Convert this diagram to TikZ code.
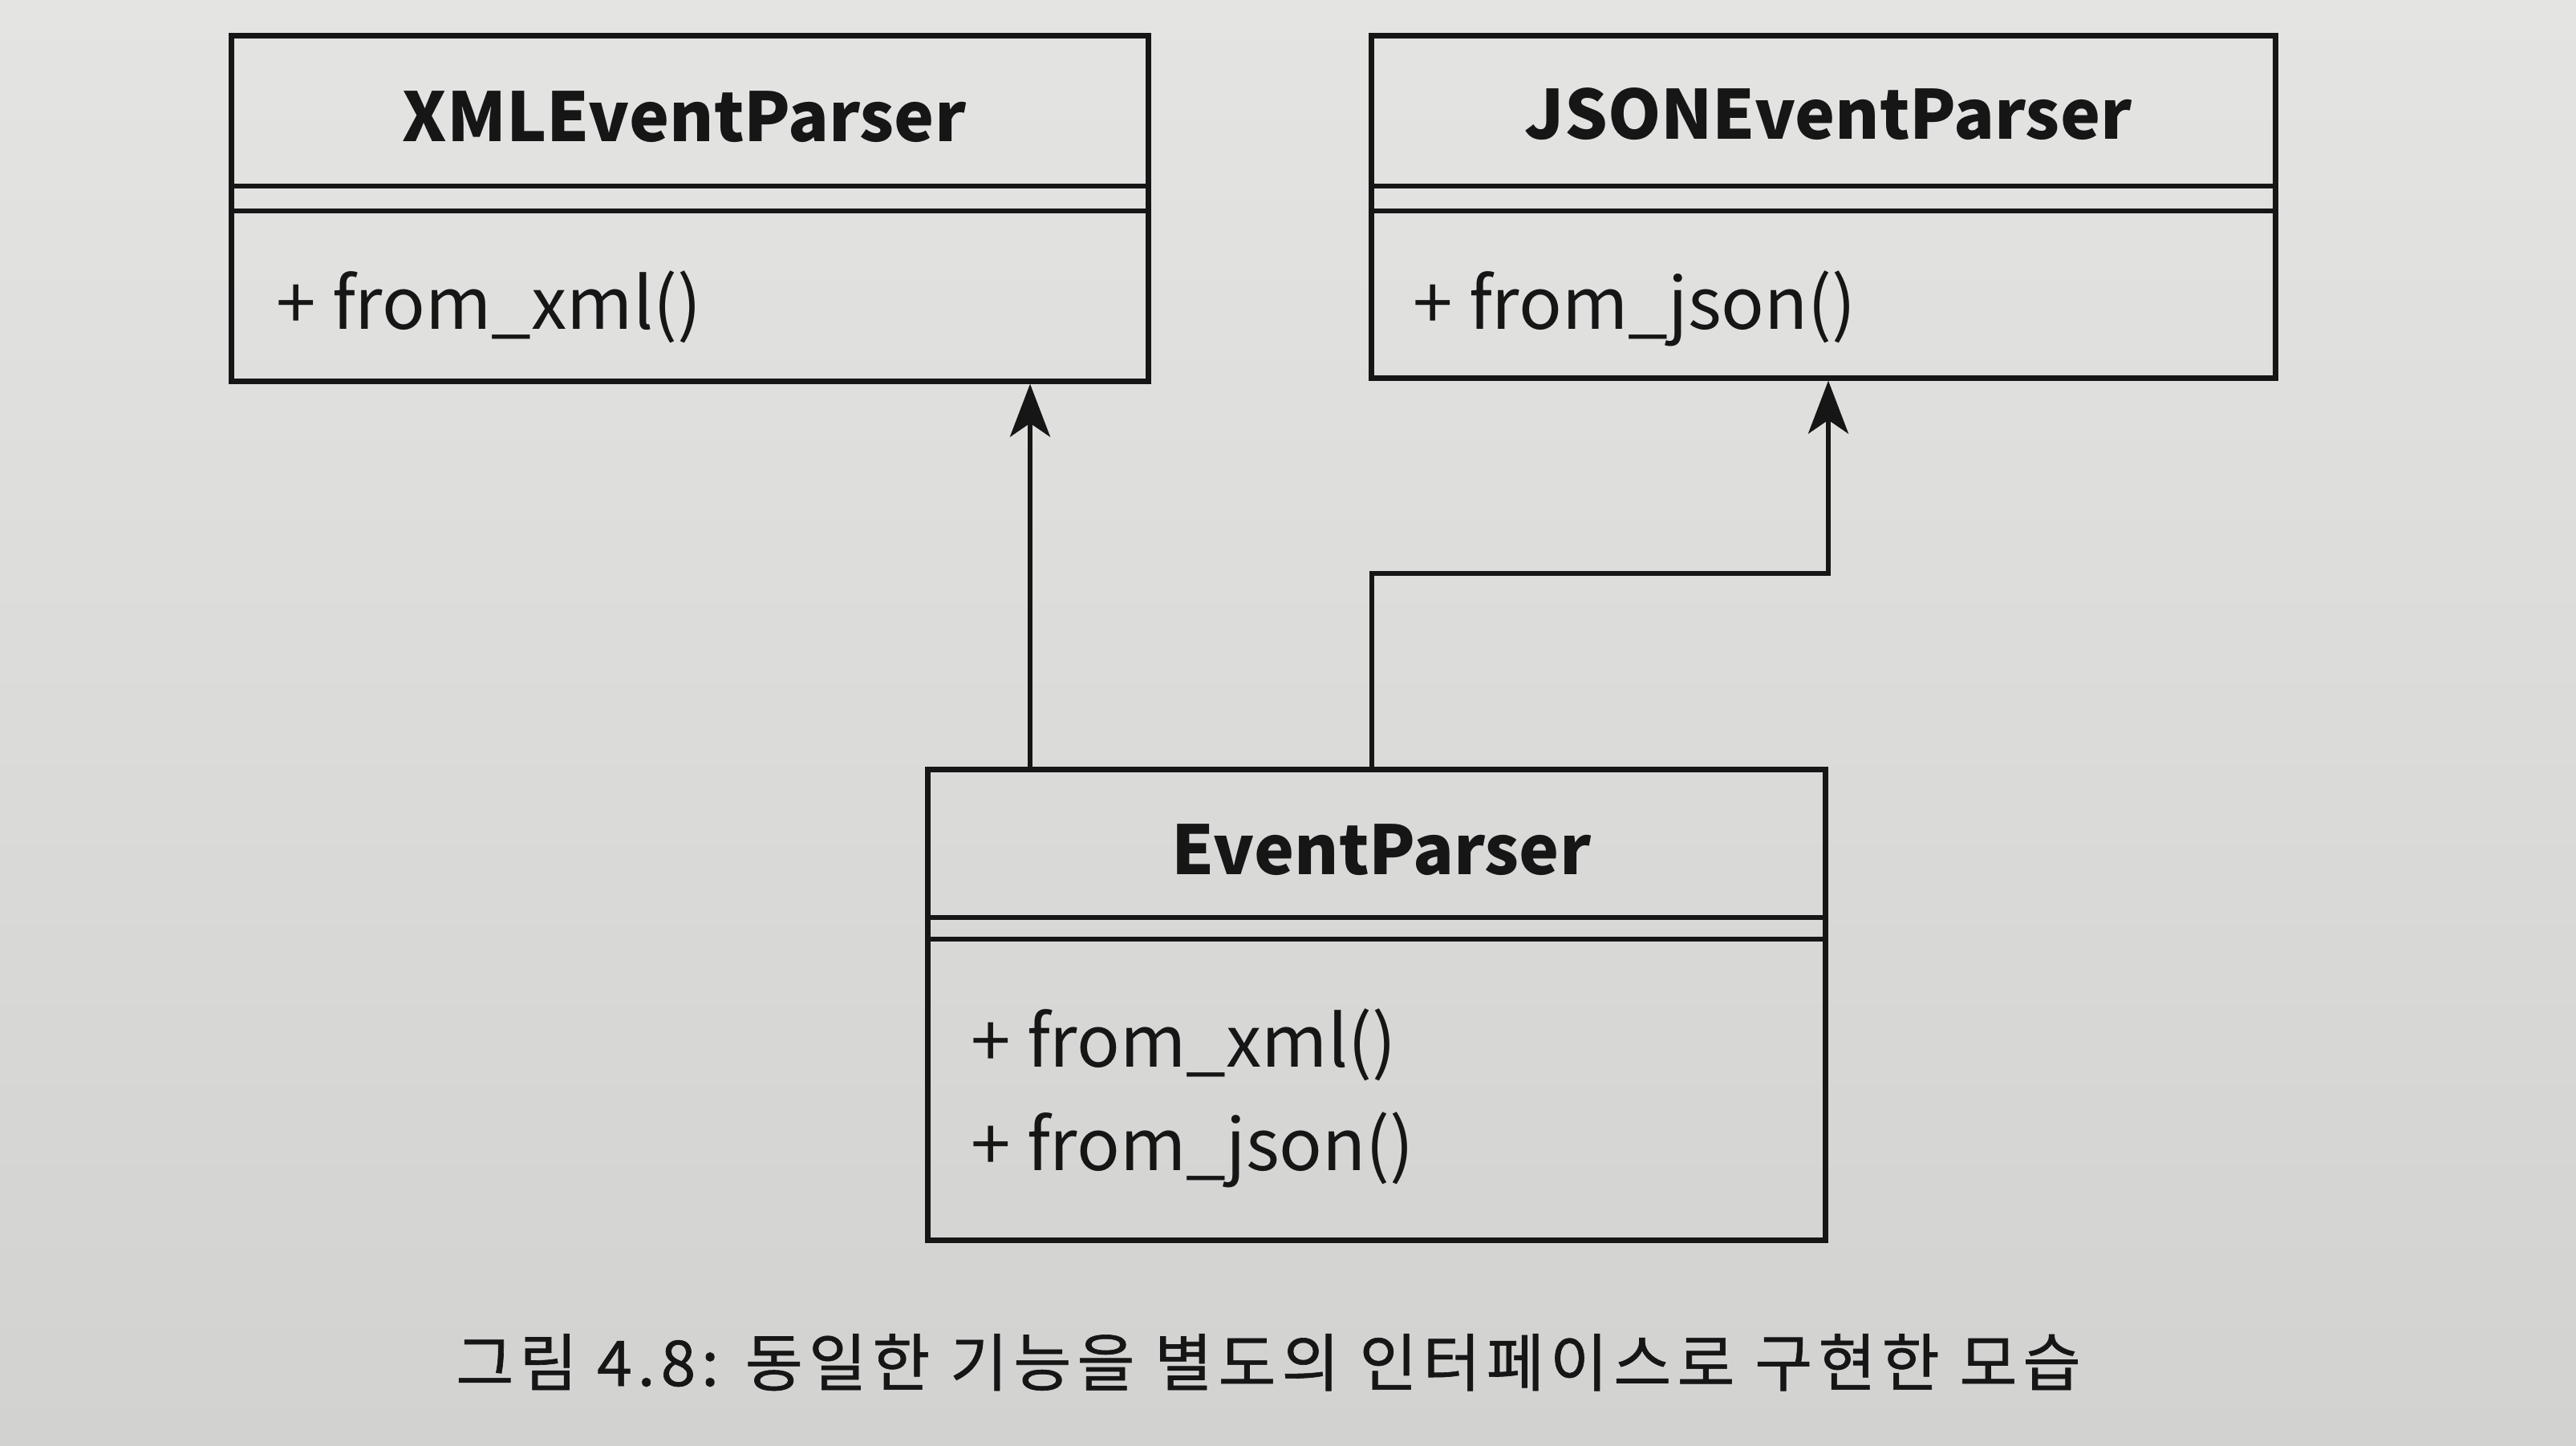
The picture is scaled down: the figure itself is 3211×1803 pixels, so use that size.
\documentclass[tikz,border=0pt]{standalone}
\usepackage{fontspec}
\setmainfont{Noto Sans CJK KR}
\newfontfamily\capfont[LetterSpace=9, FakeBold=0.8]{Noto Sans CJK KR}
\usetikzlibrary{arrows.meta}
\definecolor{papertop}{RGB}{228,229,227}
\definecolor{paperbot}{RGB}{210,211,209}
\definecolor{ink}{RGB}{22,22,22}
\tikzset{
  umlbox/.style={draw=ink, line width=2pt, rectangle, inner sep=0pt},
  divider/.style={draw=ink, line width=1.7pt},
  classname/.style={anchor=base, inner sep=0pt, text=ink, font=\fontsize{24}{30}\selectfont\bfseries},
  method/.style={anchor=base west, inner sep=0pt, text=ink, font=\fontsize{25.3}{30}\selectfont},
  captiontext/.style={anchor=base, inner sep=0pt, text=ink, font=\capfont\fontsize{22.3}{27}\selectfont},
  arr/.style={draw=ink, line width=1.6pt, -{Stealth[length=0.66cm, width=0.5cm, inset=0.17cm]}}
}
\begin{document}
\begin{tikzpicture}[x=0.01cm, y=-0.01cm]
\shade[top color=papertop, bottom color=paperbot] (0,0) rectangle (3211,1803);
\useasboundingbox (0,0) rectangle (3211,1803);

% boxes
\node[umlbox, minimum width=11.42cm, minimum height=4.30cm] (xml) at (860,260) {};
\node[umlbox, minimum width=11.26cm, minimum height=4.26cm] (json) at (2273,258) {};
\node[umlbox, minimum width=11.18cm, minimum height=5.86cm] (ep) at (1716,1253) {};

% divider levels
\coordinate (xd1) at (0,232);
\coordinate (xd2) at (0,263);
\coordinate (ed1) at (0,1144);
\coordinate (ed2) at (0,1171);

\draw[divider] (xml.west |- xd1) -- (xml.east |- xd1);
\draw[divider] (xml.west |- xd2) -- (xml.east |- xd2);
\draw[divider] (json.west |- xd1) -- (json.east |- xd1);
\draw[divider] (json.west |- xd2) -- (json.east |- xd2);
\draw[divider] (ep.west |- ed1) -- (ep.east |- ed1);
\draw[divider] (ep.west |- ed2) -- (ep.east |- ed2);

% texts
\node[classname] (xmlname) at (853,177) {XMLEventParser};
\node[classname] (jsonname) at (2279,174) {JSONEventParser};
\node[classname] (epname) at (1722,1090) {EventParser};

\node[method] (xmlm) at (344,410) {+ from\_xml()};
\node[method] (jsonm) at (1761,410) {+ from\_json()};
\node[method] (epm1) at (1210,1330) {+ from\_xml()};
\node[method] (epm2) at (1210,1459) {+ from\_json()};

% connectors
\coordinate (a1) at (1284,0);
\coordinate (bend1) at (1710,715);
\coordinate (bend2) at (2279,715);
\draw[arr] (ep.north -| a1) -- (xml.south -| a1);
\draw[arr] (ep.north -| bend1) -- (bend1) -- (bend2) -- (json.south -| bend2);

% caption
\node[captiontext] (cap) at (1581,1728) {그림 4.8: 동일한 기능을 별도의 인터페이스로 구현한 모습};
\end{tikzpicture}
\end{document}
